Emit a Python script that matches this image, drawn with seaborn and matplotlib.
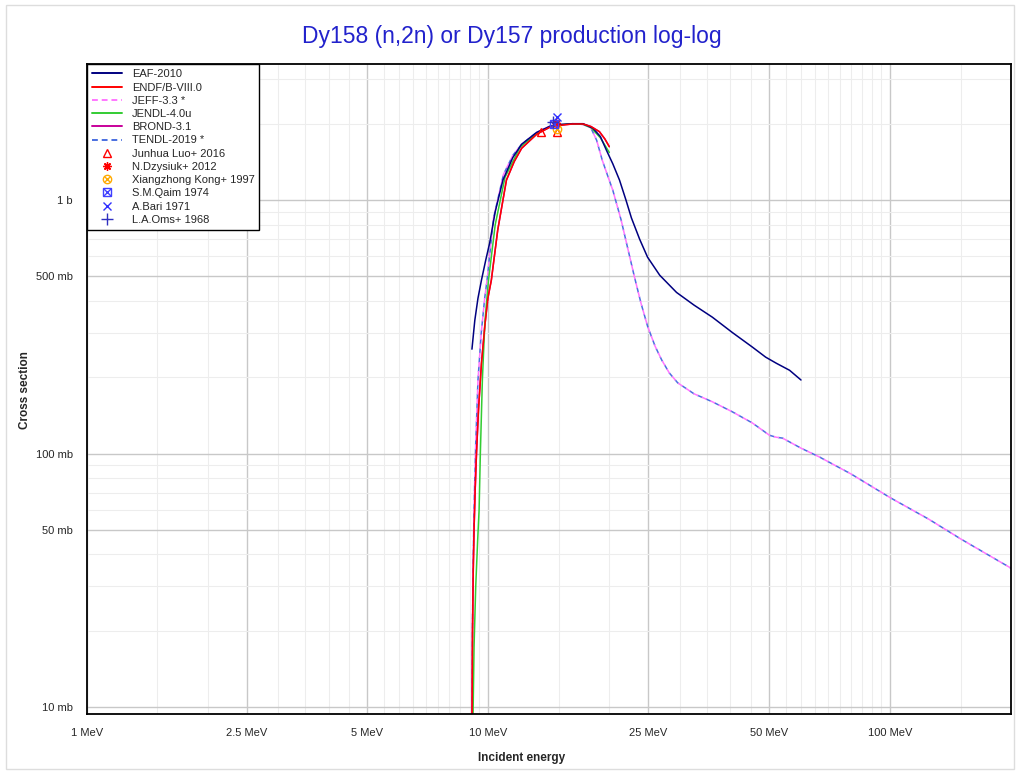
import numpy as np
import pandas as pd
import matplotlib
matplotlib.use('Agg')
import matplotlib.pyplot as plt
import matplotlib.ticker as mtick
from matplotlib.lines import Line2D
from matplotlib.patches import Rectangle
import seaborn as sns

sns.set_style('white')
plt.rcParams['font.family'] = ['Liberation Sans', 'DejaVu Sans']

# evaluated libraries, energy in MeV, cross section in mb
eaf_e = [9.10, 9.25, 9.42, 9.61, 9.85, 10.07, 10.4, 10.87, 11.5, 12.1, 13.2, 14.2, 15.2, 16.2,
         17.2, 18.2, 19.0, 19.66, 20.4, 21.2, 22.0, 22.7, 23.8, 24.9, 26.7, 29.4, 32.5, 36.1,
         40.5, 45.4, 49.0, 52.1, 56.2, 60.0]
eaf_s = [258, 335, 410, 483, 580, 675, 900, 1199, 1470, 1660, 1850, 1950, 1985, 2000,
         2000, 1920, 1780, 1575, 1390, 1199, 1000, 850, 700, 595, 505, 432, 385, 345,
         300, 263, 240, 227, 213, 195]

endf_e = [9.085, 9.10, 9.13, 9.17, 9.21, 9.27, 9.34, 9.45, 9.61, 9.8, 9.97, 10.17, 10.55, 11.09,
          11.6, 12.1, 13.2, 14.2, 15.2, 16.2, 17.2, 18.0, 18.9, 19.5, 20.0]
endf_s = [2, 8, 20, 35, 50, 72, 100, 150, 227, 320, 410, 483, 762, 1199,
          1420, 1600, 1820, 1935, 1975, 1995, 1995, 1950, 1860, 1740, 1623]

jendl_e = [9.14, 9.16, 9.21, 9.3, 9.4, 9.48, 9.55, 9.66, 9.8, 10.0, 10.4, 11.0, 12.0, 13.2,
           14.2, 15.2, 16.2, 17.2, 18.0, 19.0, 20.0]
jendl_s = [5, 9.5, 17.3, 30, 45, 59.8, 100.5, 195, 330, 480, 800, 1230, 1620, 1830,
           1945, 1985, 2000, 1990, 1930, 1760, 1540]

brond_e = endf_e
brond_s = endf_s

tendl_e = [9.08, 9.10, 9.13, 9.17, 9.22, 9.3, 9.42, 9.6, 9.79, 9.95, 10.3, 10.9, 11.5, 12.1,
           13.2, 14.2, 15.2, 16.2, 17.0, 17.6, 18.0, 18.6, 19.2, 19.8, 20.4, 21.4, 22.2, 23.1,
           24.0, 24.9, 26.0, 27.0, 28.2, 29.6, 32.5, 36.1, 40.5, 45.4, 50.1, 52.0, 54.0, 60.0,
           66.7, 80, 100, 125, 150, 200]
tendl_s = [2, 8, 22, 40, 65, 110, 195, 300, 410, 500, 850, 1260, 1500, 1660,
           1850, 1955, 1990, 2000, 1990, 1960, 1923, 1720, 1438, 1250, 1094, 834, 650, 497,
           390, 318, 265, 234, 208, 190, 172, 160, 146, 132, 118, 116, 115, 105,
           96.9, 83, 67, 55, 46, 35.3]

# JEFF-3.3 takes this reaction from TENDL
jeff_e = tendl_e
jeff_s = tendl_s

# experimental data (EXFOR)
luo_e, luo_s = [13.5, 14.8], [1860, 1850]
dzysiuk_e, dzysiuk_s = [14.7], [2018]
kong_e, kong_s = [14.8], [1900]
qaim_e, qaim_s = [14.6], [2000]
bari_e, bari_s = [14.8], [2118]
oms_e, oms_s = [14.5], [2037]

x_major = [1, 2.5, 5, 10, 25, 50, 100]
x_labels = ['1 MeV', '2.5 MeV', '5 MeV', '10 MeV', '25 MeV', '50 MeV', '100 MeV']
x_minor = [1.5, 2, 3, 3.5, 4, 4.5, 5.5, 6, 6.5, 7, 7.5, 8, 8.5, 9, 9.5, 15, 20, 30, 35, 40, 45,
           55, 60, 65, 70, 75, 80, 85, 90, 95, 150]
y_major = [10, 50, 100, 500, 1000]
y_labels = ['10 mb', '50 mb', '100 mb', '500 mb', '1 b']
y_minor = [20, 30, 40, 60, 70, 80, 90, 200, 300, 400, 600, 700, 800, 900, 2000, 3000]

#%%
fig = plt.figure(figsize=(10.2, 7.74), dpi=100)
ax = fig.add_axes([0.085, 0.0775, 0.9062, 0.8394])

lib_style = [
    ('TENDL-2019 *', tendl_e, tendl_s, '#4a6fe0', (0, (3.5, 2.5))),
    ('JEFF-3.3 *', jeff_e, jeff_s, '#ff77ff', (3.0, (3.5, 2.5))),
    ('BROND-3.1', brond_e, brond_s, '#c8009a', '-'),
    ('JENDL-4.0u', jendl_e, jendl_s, '#33cc33', '-'),
    ('EAF-2010', eaf_e, eaf_s, '#000080', '-'),
    ('ENDF/B-VIII.0', endf_e, endf_s, '#ff0000', '-'),
]
for name, e, s, col, ls in lib_style:
    d = pd.DataFrame({'E': e, 'xs': s})
    sns.lineplot(data=d, x='E', y='xs', ax=ax, color=col, linestyle=ls, linewidth=1.1,
                 sort=False, estimator=None)

ms = 6
ax.plot(luo_e, luo_s, ls='none', marker='^', mfc='none', mec='#ff0000', ms=ms, mew=1)
ax.plot(kong_e, kong_s, ls='none', marker='o', mfc='none', mec='#ffaa00', ms=ms, mew=1)
ax.plot(kong_e, kong_s, ls='none', marker='x', color='#ffaa00', ms=ms - 1, mew=1)
ax.plot(dzysiuk_e, dzysiuk_s, ls='none', marker=(8, 2, 0), color='#ff0000', ms=ms, mew=1)
ax.plot(qaim_e, qaim_s, ls='none', marker='s', mfc='none', mec='#4040ff', ms=ms, mew=1)
ax.plot(qaim_e, qaim_s, ls='none', marker='x', color='#4040ff', ms=ms, mew=1)
ax.plot(bari_e, bari_s, ls='none', marker='x', color='#3030ff', ms=ms, mew=1)
ax.plot(oms_e, oms_s, ls='none', marker='+', color='#3030c0', ms=ms + 2, mew=1)

ax.set_xscale('log')
ax.set_yscale('log')
ax.set_xlim(1, 200)
ax.set_ylim(9.385, 3430)

ax.xaxis.set_major_locator(mtick.FixedLocator(x_major))
ax.xaxis.set_major_formatter(mtick.FixedFormatter(x_labels))
ax.xaxis.set_minor_locator(mtick.FixedLocator(x_minor))
ax.xaxis.set_minor_formatter(mtick.NullFormatter())
ax.yaxis.set_major_locator(mtick.FixedLocator(y_major))
ax.yaxis.set_major_formatter(mtick.FixedFormatter(y_labels))
ax.yaxis.set_minor_locator(mtick.FixedLocator(y_minor))
ax.yaxis.set_minor_formatter(mtick.NullFormatter())

ax.grid(which='major', color='#c8c8c8', lw=1)
ax.grid(which='minor', color='#ededed', lw=0.8)
ax.set_axisbelow(True)
ax.tick_params(which='major', direction='inout', length=8, width=1, labelsize=8, pad=6,
               top=False, right=False)
ax.tick_params(which='minor', direction='in', length=4, width=0.8, top=False, right=False)
for sp in ax.spines.values():
    sp.set_color('black')
    sp.set_linewidth(1.3)

ax.set_xlabel('')
ax.set_ylabel('')
fig.text(522 / 1020, 1 - 758 / 774, 'Incident energy', ha='center', va='center',
         fontsize=8.5, fontweight='bold')
fig.text(25 / 1020, 1 - 390 / 774, 'Cross section', ha='center', va='center',
         rotation=90, fontsize=8.5, fontweight='bold')
fig.text(512 / 1020, 1 - 36 / 774, 'Dy158 (n,2n) or Dy157 production log-log',
         ha='center', va='center', fontsize=16.5, color='#2222cc')

# legend
lw = 1.4
handles = [
    Line2D([], [], color='#000080', lw=lw),
    Line2D([], [], color='#ff0000', lw=lw),
    Line2D([], [], color='#ff77ff', lw=lw, ls=(0, (3, 2))),
    Line2D([], [], color='#33cc33', lw=lw),
    Line2D([], [], color='#c8009a', lw=lw),
    Line2D([], [], color='#4a6fe0', lw=lw, ls=(0, (3, 2))),
    Line2D([], [], ls='none', marker='^', mfc='none', mec='#ff0000', ms=ms),
    Line2D([], [], ls='none', marker=(8, 2, 0), color='#ff0000', ms=ms),
    (Line2D([], [], ls='none', marker='o', mfc='none', mec='#ffaa00', ms=ms),
     Line2D([], [], ls='none', marker='x', color='#ffaa00', ms=ms - 1)),
    (Line2D([], [], ls='none', marker='s', mfc='none', mec='#4040ff', ms=ms),
     Line2D([], [], ls='none', marker='x', color='#4040ff', ms=ms)),
    Line2D([], [], ls='none', marker='x', color='#3030ff', ms=ms),
    Line2D([], [], ls='none', marker='+', color='#3030c0', ms=ms + 2),
]
labels = ['EAF-2010', 'ENDF/B-VIII.0', 'JEFF-3.3 *', 'JENDL-4.0u', 'BROND-3.1', 'TENDL-2019 *',
          'Junhua Luo+ 2016', 'N.Dzysiuk+ 2012', 'Xiangzhong Kong+ 1997', 'S.M.Qaim 1974',
          'A.Bari 1971', 'L.A.Oms+ 1968']
leg = ax.legend(handles, labels, loc='upper left', borderaxespad=0, fontsize=8,
                frameon=True, fancybox=False, edgecolor='black', framealpha=1,
                handlelength=2.7, handletextpad=0.9, labelspacing=0.29, borderpad=0.45)
leg.get_frame().set_linewidth(1.0)

fig.patches.append(Rectangle((0.006, 0.006), 0.988, 0.988, transform=fig.transFigure,
                             fill=False, edgecolor='#dddddd', lw=1))

fig.savefig('out.png', dpi=100)
